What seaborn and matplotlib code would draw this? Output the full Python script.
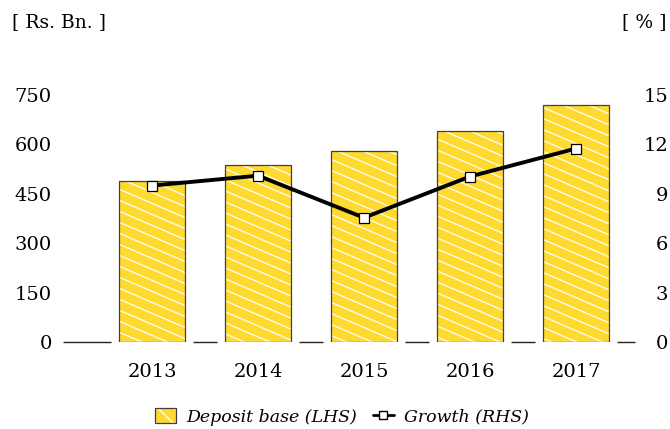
import matplotlib
matplotlib.use("Agg")
import matplotlib.pyplot as plt
import seaborn as sns
import pandas as pd
import numpy as np
from matplotlib.patches import Patch
from matplotlib.lines import Line2D
from matplotlib.collections import LineCollection
from matplotlib.transforms import IdentityTransform
from matplotlib.legend_handler import HandlerTuple

years = ["2013", "2014", "2015", "2016", "2017"]
deposit_base = [489, 537, 581, 642, 720]
growth = [9.5, 10.1, 7.55, 10.05, 11.75]
left_ticks = [0, 150, 300, 450, 600, 750]
right_ticks = [0, 3, 6, 9, 12, 15]

sns.set_theme(style="white")
plt.rcParams["font.family"] = ["DejaVu Serif"]
plt.rcParams["hatch.linewidth"] = 1.0
for k in ["text.color", "xtick.color", "ytick.color", "axes.labelcolor",
          "xtick.labelcolor", "ytick.labelcolor"]:
    plt.rcParams[k] = "black"

df = pd.DataFrame({"year": years, "deposit": deposit_base, "growth": growth})

YELLOW = "#FED930"
EDGE = "#404040"
FS = 14
W, H = 670, 429

fig = plt.figure(figsize=(W/100, H/100), dpi=100)
ax = fig.add_axes([63/W, 1-342/H, (635-63)/W, (342-95)/H])

bw = 0.63
sns.barplot(data=df, x="year", y="deposit", ax=ax, color=YELLOW, width=bw,
            linewidth=0, saturation=1, zorder=2)
fill_patches = list(ax.patches)

# custom white diagonal hatch clipped to each bar
cs = np.arange(-50, H + 0.43 * W + 50, 11.0)
for p in fill_patches:
    segs = [[(0, c), (W, c - 0.43 * W)] for c in cs]
    lc = LineCollection(segs, colors="white", linewidths=0.9,
                        transform=IdentityTransform(), zorder=2.5)
    ax.add_collection(lc, autolim=False)
    lc.set_clip_path(p)

sns.barplot(data=df, x="year", y="deposit", ax=ax, fill=False, width=bw,
            edgecolor=EDGE, linewidth=0.9, saturation=1, zorder=3)

# baseline dashes in the gaps between bars
gap = 0.07
xl, xr = -0.84, 4.557
segs = [(xl, 0 - bw/2 - gap)]
for i in range(len(years) - 1):
    segs.append((i + bw/2 + gap, i + 1 - bw/2 - gap))
segs.append((len(years) - 1 + bw/2 + gap, xr))
for a, b in segs:
    ax.hlines(0, a, b, color="#222222", linewidth=1.0, zorder=1, clip_on=False)

ax.set_xlim(xl, xr)
ax.set_ylim(0, 750)
ax.set_yticks(left_ticks)
ax.set_yticklabels([str(t) for t in left_ticks], fontsize=FS)
ax.set_xlabel("")
ax.set_ylabel("")
ax.tick_params(axis="x", length=0, pad=15, labelsize=FS)
ax.tick_params(axis="y", length=0, pad=8, labelsize=FS)
for s in ax.spines.values():
    s.set_visible(False)

ax2 = ax.twinx()
sns.pointplot(data=df, x="year", y="growth", ax=ax2, color="black",
              markers="s", errorbar=None, linewidth=2.8,
              markerfacecolor="white", markeredgecolor="black",
              markersize=6.5, markeredgewidth=0.9, zorder=5)
ax2.set_xlim(xl, xr)
ax2.set_ylim(0, 15)
ax2.set_yticks(right_ticks)
ax2.set_yticklabels([str(t) for t in right_ticks], fontsize=FS)
ax2.set_ylabel("")
ax2.set_xlabel("")
ax2.tick_params(axis="y", length=0, pad=23.8, labelsize=FS)
for lbl in ax2.get_yticklabels():
    lbl.set_horizontalalignment("right")
for s in ax2.spines.values():
    s.set_visible(False)

fig.text(12/W, 1-22/H, "[ Rs. Bn. ]", fontsize=13.5, va="center", ha="left")
fig.text(667/W, 1-22/H, "[ % ]", fontsize=13.5, va="center", ha="right")

bar_handle = (Patch(facecolor=YELLOW, edgecolor="white", hatch="\\\\", linewidth=0),
              Patch(fill=False, edgecolor=EDGE, linewidth=0.9))
line_handle = Line2D([0], [0], color="black", linewidth=2, marker="s", markersize=6,
                     markerfacecolor="white", markeredgecolor="black")
fig.legend(handles=[bar_handle, line_handle],
           labels=["Deposit base (LHS)", "Growth (RHS)"],
           handler_map={tuple: HandlerTuple(ndivide=1, pad=0)},
           loc="center", bbox_to_anchor=(342/W, 1-417/H),
           ncol=2, frameon=False, prop={"style": "italic", "size": 12.5},
           handlelength=1.2, handleheight=0.9, handletextpad=0.6, columnspacing=0.9)

fig.savefig("out.png", dpi=100, facecolor="white")
